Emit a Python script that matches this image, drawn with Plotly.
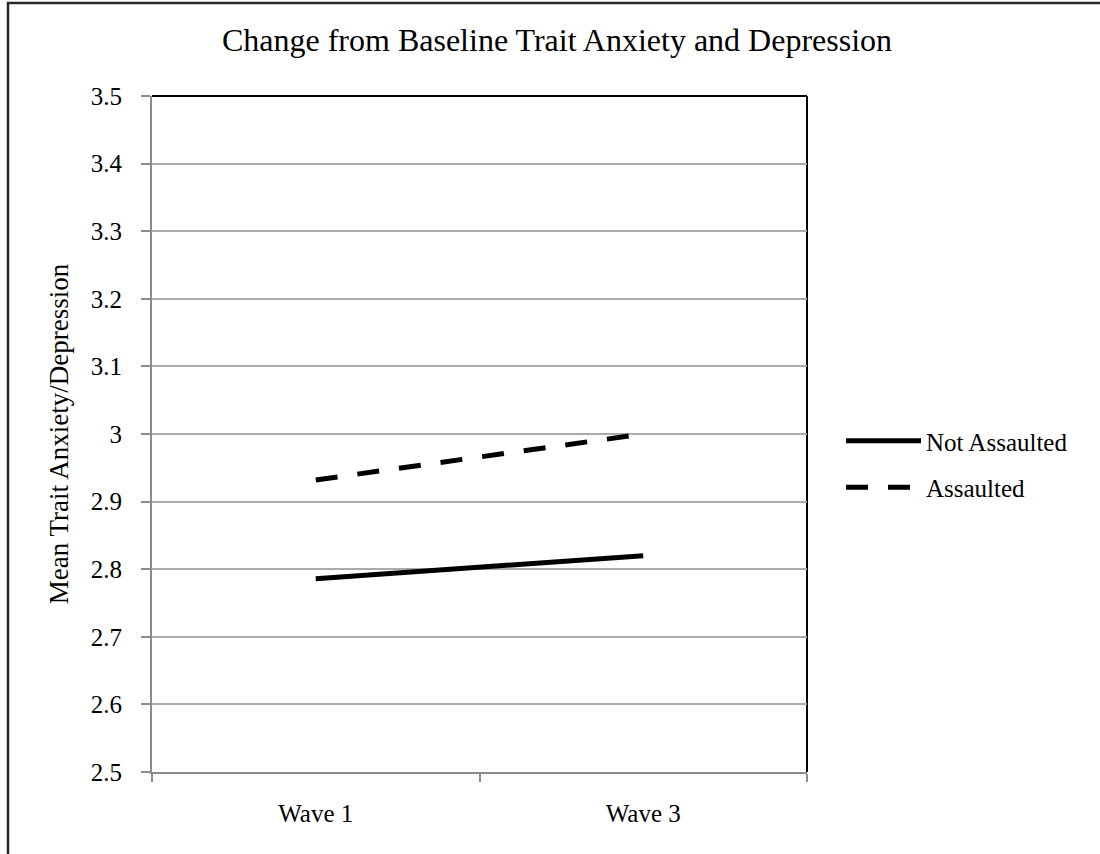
import plotly.graph_objects as go

waves = ["Wave 1", "Wave 3"]
not_assaulted = [2.786, 2.820]
assaulted = [2.932, 3.000]
y_ticks = [2.5, 2.6, 2.7, 2.8, 2.9, 3.0, 3.1, 3.2, 3.3, 3.4, 3.5]
y_tick_text = ["2.5", "2.6", "2.7", "2.8", "2.9", "3", "3.1", "3.2", "3.3", "3.4", "3.5"]

FONT = "Liberation Serif, Times New Roman, serif"
W, H = 1100, 854
L, R, T, B = 152, 293, 96, 82
pw, ph = W - L - R, H - T - B

fig = go.Figure()
fig.add_trace(go.Scatter(x=waves, y=not_assaulted, mode="lines", name="Not Assaulted",
                         legendgroup="a",
                         line=dict(color="black", width=5)))
fig.add_trace(go.Scatter(x=waves, y=assaulted, mode="lines", name="Assaulted",
                         legendgroup="b",
                         line=dict(color="black", width=5, dash="22px,20px")))

def px_x(x):
    return (x - L) / pw

def px_y(y):
    return (H - B - y) / ph

shapes = [
    # outer chart border
    dict(type="rect", xref="paper", yref="paper", x0=px_x(8), x1=px_x(1110),
         y0=px_y(870), y1=px_y(3), line=dict(color="#2a2a2a", width=2.5), layer="below"),
    # plot area top and right border (black)
    dict(type="line", xref="paper", yref="paper", x0=0, x1=1, y0=1, y1=1,
         line=dict(color="black", width=2), layer="below"),
    dict(type="line", xref="paper", yref="paper", x0=1, x1=1, y0=0, y1=1,
         line=dict(color="black", width=2), layer="below"),
]

fig.update_layout(
    width=W, height=H,
    margin=dict(l=L, r=R, t=T, b=B, pad=0),
    paper_bgcolor="white", plot_bgcolor="white",
    font=dict(family=FONT, size=25, color="black"),
    title=dict(text="Change from Baseline Trait Anxiety and Depression",
               font=dict(family=FONT, size=32, color="black"),
               x=557 / W, xanchor="center", y=1 - 40 / H, yanchor="middle"),
    xaxis=dict(type="category", showgrid=False, showline=True, linecolor="#8c8c8c", linewidth=2,
               ticks="outside", tickson="boundaries", ticklen=8, tickcolor="#8c8c8c", tickwidth=2,
               ticklabelstandoff=18, tickfont=dict(family=FONT, size=25, color="black"),
               range=[-0.5, 1.5], zeroline=False),
    yaxis=dict(range=[2.5, 3.5], tickvals=y_ticks, ticktext=y_tick_text,
               showgrid=True, gridcolor="#ababab", gridwidth=2,
               showline=True, linecolor="#8c8c8c", linewidth=2,
               ticks="outside", ticklen=9, tickcolor="#8c8c8c", tickwidth=2,
               ticklabelstandoff=14, tickfont=dict(family=FONT, size=25, color="black"),
               zeroline=False,
               title=dict(text="Mean Trait Anxiety/Depression", standoff=14,
                          font=dict(family=FONT, size=27, color="black"))),
    legend=dict(x=px_x(841), y=px_y(418), xanchor="left", yanchor="top",
                bgcolor="rgba(0,0,0,0)", font=dict(family=FONT, size=25, color="black"),
                tracegroupgap=11, itemwidth=75),
    shapes=shapes,
    showlegend=True,
)

fig.write_html("out.html", config={"displayModeBar": False},
               post_script="document.body.style.margin='0';")
